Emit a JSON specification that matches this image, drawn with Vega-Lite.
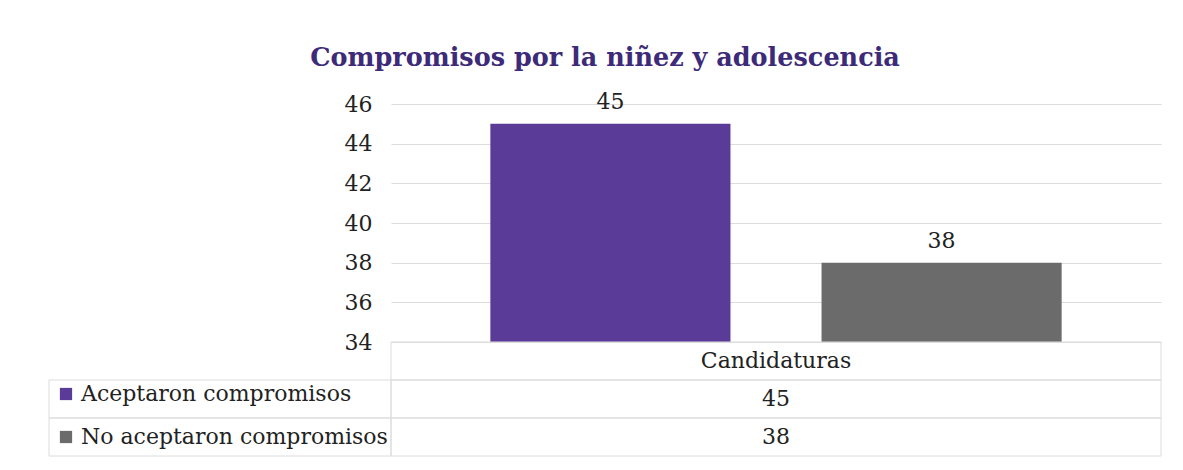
{
  "$schema": "https://vega.github.io/schema/vega-lite/v6.json",
  "background": "white",
  "padding": {"left": 48, "top": 46, "right": 20, "bottom": 10},
  "title": {
    "text": "Compromisos por la niñez y adolescencia",
    "font": "DejaVu Serif",
    "fontSize": 25.5,
    "fontWeight": "bold",
    "color": "#3d2a78",
    "anchor": "middle",
    "offset": 19
  },
  "datasets": {
    "d": [
      {"serie": "Aceptaron compromisos", "valor": 45},
      {"serie": "No aceptaron compromisos", "valor": 38}
    ],
    "filas": [
      {"fila": "Candidaturas"},
      {"fila": "Aceptaron compromisos"},
      {"fila": "No aceptaron compromisos"}
    ]
  },
  "columns": 2,
  "spacing": 0,
  "bounds": "flush",
  "config": {
    "view": {"stroke": null},
    "font": "DejaVu Serif",
    "legend": {
      "orient": "none",
      "legendX": 6,
      "legendY": 279,
      "title": null,
      "symbolType": "square",
      "symbolSize": 150,
      "symbolStrokeWidth": 0,
      "labelFont": "DejaVu Serif",
      "labelFontSize": 22,
      "labelColor": "#222222",
      "rowPadding": 21,
      "labelOffset": 4,
      "padding": 0,
      "labelLimit": 400
    }
  },
  "concat": [
    {
      "width": 342,
      "height": 238,
      "data": {"values": []},
      "mark": {"type": "text"},
      "encoding": {}
    },
    {
      "width": 770,
      "height": 238,
      "data": {"name": "d"},
      "encoding": {
        "x": {
          "field": "serie",
          "type": "nominal",
          "axis": null,
          "scale": {"paddingInner": 0.275, "paddingOuter": 0.3}
        },
        "y": {
          "field": "valor",
          "type": "quantitative",
          "scale": {"domain": [34, 46], "zero": false, "nice": false},
          "axis": {
            "values": [34, 36, 38, 40, 42, 44, 46],
            "tickCount": 7,
            "title": null,
            "grid": true,
            "gridColor": "#dcdcdc",
            "domain": false,
            "ticks": false,
            "labelOverlap": false,
            "labelFont": "DejaVu Serif",
            "labelFontSize": 22,
            "labelColor": "#222222",
            "labelPadding": 19
          }
        }
      },
      "layer": [
        {
          "mark": {"type": "bar"},
          "encoding": {
            "y2": {"datum": 34},
            "color": {
              "field": "serie",
              "type": "nominal",
              "scale": {
                "domain": ["Aceptaron compromisos", "No aceptaron compromisos"],
                "range": ["#5a3b98", "#6b6b6b"]
              }
            }
          }
        },
        {
          "mark": {"type": "text", "baseline": "bottom", "dy": -10, "fontSize": 22, "color": "#222222", "font": "DejaVu Serif"},
          "encoding": {
            "text": {"field": "valor", "type": "quantitative"}
          }
        }
      ]
    },
    {
      "width": 342,
      "height": 114,
      "data": {"name": "d"},
      "mark": {"type": "rect", "fill": null, "stroke": "#dcdcdc", "strokeWidth": 1},
      "encoding": {
        "y": {
          "field": "serie",
          "type": "nominal",
          "axis": null,
          "scale": {
            "domain": ["Candidaturas", "Aceptaron compromisos", "No aceptaron compromisos"],
            "paddingInner": 0,
            "paddingOuter": 0
          }
        }
      }
    },
    {
      "width": 770,
      "height": 114,
      "layer": [
        {
          "data": {"name": "filas"},
          "mark": {"type": "rect", "fill": null, "stroke": "#dcdcdc", "strokeWidth": 1},
          "encoding": {
            "y": {
              "field": "fila",
              "type": "nominal",
              "axis": null,
              "scale": {
                "domain": ["Candidaturas", "Aceptaron compromisos", "No aceptaron compromisos"],
                "paddingInner": 0,
                "paddingOuter": 0
              }
            }
          }
        },
        {
          "data": {"name": "filas"},
          "transform": [{"filter": "datum.fila == 'Candidaturas'"}],
          "mark": {"type": "text", "fontSize": 22, "color": "#222222", "font": "DejaVu Serif"},
          "encoding": {
            "y": {"field": "fila", "type": "nominal"},
            "text": {"field": "fila", "type": "nominal"}
          }
        },
        {
          "data": {"name": "d"},
          "mark": {"type": "text", "fontSize": 22, "color": "#222222", "font": "DejaVu Serif"},
          "encoding": {
            "y": {"field": "serie", "type": "nominal"},
            "text": {"field": "valor", "type": "quantitative"}
          }
        }
      ]
    }
  ]
}
